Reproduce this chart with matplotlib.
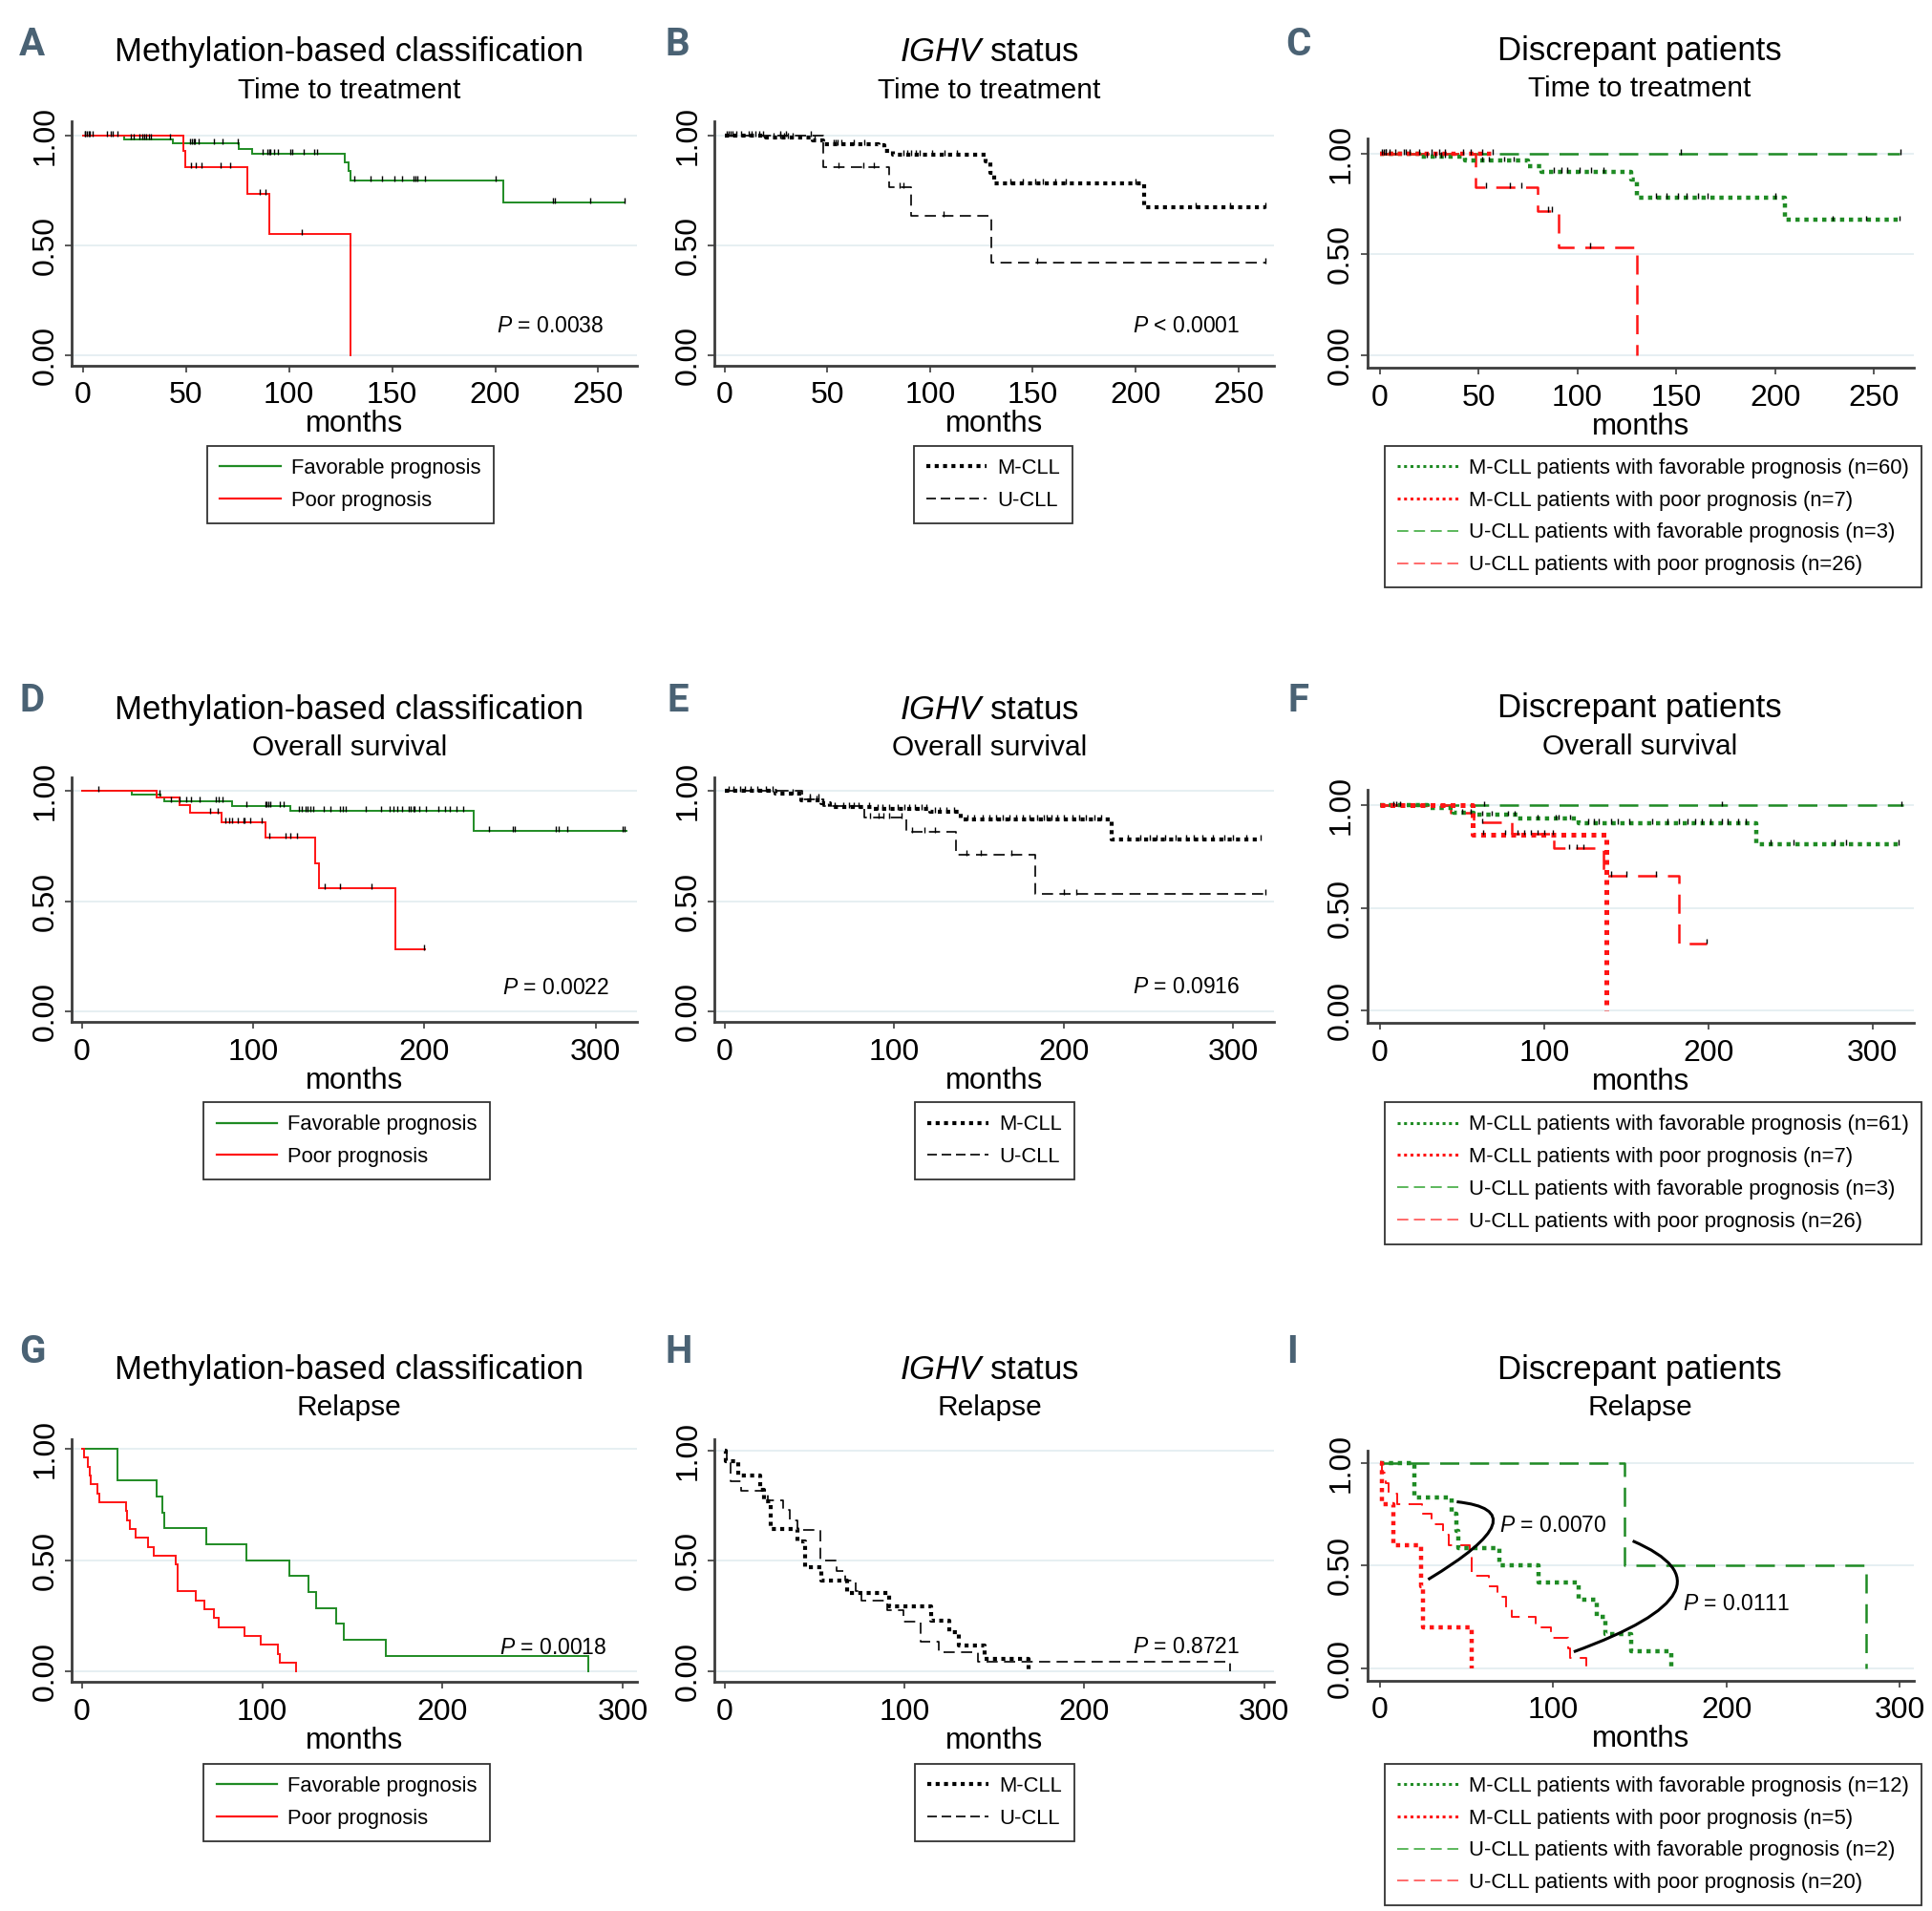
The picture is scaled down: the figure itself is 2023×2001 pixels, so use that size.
import numpy as np
import matplotlib
matplotlib.use('Agg')
import matplotlib.pyplot as plt
from matplotlib.lines import Line2D
from matplotlib.path import Path
from matplotlib.patches import PathPatch

plt.rcParams['font.family'] = ['Liberation Sans', 'DejaVu Sans']
plt.rcParams['mathtext.fontset'] = 'custom'
plt.rcParams['mathtext.rm'] = 'Liberation Sans'
plt.rcParams['mathtext.it'] = 'Liberation Sans:italic'

# ---------------- data (months, survival after each step) ----------------
# A: methylation classes, time to treatment
a_fav_t = [0, 20, 43.8, 75.4, 82.3, 127, 129, 130, 204, 263]
a_fav_s = [1, .983, .963, .938, .915, .875, .837, .795, .695, .695]
a_fav_cens = [0.8, 1.2, 1.9, 2.7, 3.3, 4.6, 11.6, 13.3, 14.5, 16.6, 23.1, 24.7, 27.2, 28.7,
              29.9, 30.8, 32, 33, 42, 52, 52.8, 53.6, 54.4, 56.1, 63.4, 67.5, 75.2, 87, 89.4,
              90.2, 91, 92.7, 94.8, 100.4, 101.6, 107.2, 112.4, 113.7, 131.8, 139.4, 145,
              150.9, 155, 160.4, 161.3, 162.1, 165.8, 200, 228, 229, 246, 263]
a_poor_t = [0, 48.5, 49.5, 79.8, 90.6, 130]
a_poor_s = [1, .93, .855, .733, .552, 0]
a_poor_cens = [52.6, 54.9, 57.4, 66.7, 71.5, 85.8, 88.5, 106.4]

# B: IGHV status, time to treatment
b_m_t = [0, 20, 43, 48, 75, 78, 82, 127, 129.5, 131, 204, 263]
b_m_s = [1, .988, .975, .96, .955, .93, .913, .88, .83, .783, .672, .672]
b_m_cens = [1, 2, 4, 8, 12, 15, 17, 24, 27, 29, 31, 33, 44, 53, 54, 55, 57, 63, 68, 87, 89,
            91, 93, 95, 101, 107, 113, 139, 145, 151, 155, 161, 166, 200, 229, 246, 263]
b_u_t = [0, 48, 80, 91, 130, 263]
b_u_s = [1, .855, .763, .633, .422, .422]
b_u_cens = [3, 6, 13, 19, 27, 30, 42, 55.5, 67.6, 72.7, 85, 87, 106.6, 152, 263]

# C: discrepant patients, time to treatment
c_mf_t = [0, 20, 43, 75, 82, 127, 130, 205, 263]
c_mf_s = [1, .985, .964, .939, .91, .87, .782, .67, .67]
c_mf_cens = [2, 3, 5, 12, 15, 24, 28, 31, 33, 52, 55, 63, 68, 88, 92, 95, 101, 107, 113, 140,
             145, 151, 155, 161, 166, 200, 229, 246, 263]
c_mp_t = [0, 57]
c_mp_s = [1, 1]
c_mp_cens = [1, 3, 8, 13, 20, 26, 30, 33, 42, 46, 57]
c_uf_t = [0, 263]
c_uf_s = [1, 1]
c_uf_cens = [52, 152.5, 263.5]
c_up_t = [0, 48.5, 80, 90.5, 130]
c_up_s = [1, .834, .714, .534, 0]
c_up_cens = [54, 66, 71.5, 85, 87, 106.4]

# D: methylation classes, overall survival
d_fav_t = [0, 29, 46, 48, 88, 122, 229, 318]
d_fav_s = [1, .984, .97, .953, .933, .913, .821, .821]
d_fav_cens = [9.5, 45.5, 52, 57, 61, 64, 69, 78, 80, 82, 96, 107, 108, 109, 110, 115.6, 118,
              127, 128.6, 130.5, 132, 133.5, 135, 141, 145, 151, 152.5, 154, 165.6, 175, 180,
              182, 184, 187, 191, 192, 193.5, 194.5, 197, 200.8, 208, 212, 215, 218.6, 222.9,
              237.7, 251.5, 253, 277, 278.6, 283.7, 315.6, 316.8]
d_poor_t = [0, 43.5, 57.3, 63.3, 81.7, 107.3, 136.2, 138.7, 183.2, 200.3]
d_poor_s = [1, .97, .936, .902, .86, .788, .674, .562, .282, .282]
d_poor_cens = [75, 79.4, 83.7, 86.2, 88, 91, 94.2, 95.2, 98.2, 105, 109.3, 119, 121.6, 125.4,
               142, 151, 169, 200]

# E: IGHV status, overall survival
e_m_t = [0, 30, 45, 57, 62, 87, 121, 139, 228.5, 316]
e_m_s = [1, .99, .96, .945, .928, .921, .905, .874, .78, .78]
e_m_cens = [2, 5, 9, 12, 15, 19, 24, 28, 40, 50, 54, 58, 65, 70, 73, 76, 79, 85, 90, 93, 97,
            102, 106, 109, 112, 116, 119, 124, 127, 131, 135, 143, 147, 152, 156, 160, 164,
            168, 172, 176, 180, 184, 188, 190, 193, 196, 200, 205, 209, 213, 218, 222, 238,
            245, 251, 255, 260, 266, 272, 277, 282, 288, 295, 300, 308, 316]
e_u_t = [0, 45.5, 58, 82, 107, 136.5, 183, 319]
e_u_s = [1, .965, .935, .882, .816, .71, .534, .534]
e_u_cens = [50, 55, 85.5, 90.9, 93.6, 97, 104, 110.6, 118, 124, 142.5, 151, 168.8, 200,
            207.6, 319]

# F: discrepant patients, overall survival
f_mf_t = [0, 29, 45, 57, 84, 121, 229, 316]
f_mf_s = [1, .985, .962, .953, .935, .912, .811, .811]
f_mf_cens = [10, 50, 55, 62, 68, 78, 82, 96, 107, 109, 116, 127, 130, 133, 141, 145, 152,
             166, 175, 182, 187, 192, 196, 201, 208, 212, 218, 223, 238, 252, 277, 284, 316]
f_mp_t = [0, 56.4, 138]
f_mp_s = [1, .859, 0]
f_mp_cens = [12, 63, 76]
f_uf_t = [0, 319]
f_uf_s = [1, 1]
f_uf_cens = [8.3, 63.4, 208, 317.6]
f_up_t = [0, 43, 57, 80, 106, 136, 182, 199]
f_up_s = [1, .962, .916, .86, .79, .658, .328, .328]
f_up_cens = [62, 84, 88, 92, 96, 100, 105, 115, 120, 124, 141, 150, 168, 199]

# G: methylation classes, relapse
g_fav_t = [0, 20, 41.5, 44.5, 45.5, 69, 91.5, 115, 125.5, 130, 141, 145, 168.5, 280.8]
g_fav_s = [1, .857, .786, .714, .643, .571, .5, .429, .357, .286, .214, .143, .071, 0]
g_poor_t = [0, 1.5, 3.5, 4.5, 5, 8.5, 10, 24.5, 25, 26.5, 30, 36.5, 40, 52, 53, 63, 68, 73,
            76, 90, 99, 108.5, 110, 119]
g_poor_s = [1, .96, .92, .88, .84, .8, .76, .72, .68, .64, .6, .56, .52, .48, .36, .32, .28,
            .24, .2, .16, .12, .08, .04, 0]

# H: IGHV status, relapse
h_m_t = [0, 0.7, 7.6, 20, 22, 25.5, 40.5, 45, 54, 68, 91.4, 114.6, 125, 130.3, 144.7, 169]
h_m_s = [1, .95, .887, .82, .768, .645, .59, .47, .41, .355, .294, .232, .18, .118, .06, 0]
h_u_t = [0, 1.2, 3.5, 9.3, 24.3, 32.4, 36.3, 40.5, 53.2, 62.5, 67, 73, 76, 90.5, 99.5, 108.8,
         119, 141, 280.8]
h_u_s = [1, .958, .862, .818, .775, .73, .683, .638, .5, .454, .41, .365, .32, .278, .228,
         .136, .09, .044, 0]

# I: discrepant patients, relapse
i_mf_t = [0, 20, 41.5, 44.5, 45.5, 69, 91.5, 115, 125.5, 130, 145, 168.5]
i_mf_s = [1, .833, .75, .667, .583, .5, .417, .333, .25, .167, .083, 0]
i_mp_t = [0, 1.5, 8, 23.7, 25, 53]
i_mp_s = [1, .8, .6, .4, .2, 0]
i_uf_t = [0, 141, 280.8]
i_uf_s = [1, .5, 0]
i_up_t = [0, 1.5, 3.5, 5, 10, 24.5, 30, 36.5, 40, 52, 53, 63, 68, 73, 76, 90, 99, 109, 110, 119]
i_up_s = [1, .95, .9, .85, .8, .75, .7, .65, .6, .55, .45, .4, .35, .3, .25, .2, .15, .1, .05, 0]

p_values = {'A': 'P = 0.0038', 'B': 'P < 0.0001', 'D': 'P = 0.0022',
            'E': 'P = 0.0916', 'G': 'P = 0.0018', 'H': 'P = 0.8721'}

meth_labels = ['Favorable prognosis', 'Poor prognosis']
ighv_labels = ['M-CLL', 'U-CLL']
disc_labels_ttt = ['M-CLL patients with favorable prognosis (n=60)',
                   'M-CLL patients with poor prognosis (n=7)',
                   'U-CLL patients with favorable prognosis (n=3)',
                   'U-CLL patients with poor prognosis (n=26)']
disc_labels_os = ['M-CLL patients with favorable prognosis (n=61)',
                  'M-CLL patients with poor prognosis (n=7)',
                  'U-CLL patients with favorable prognosis (n=3)',
                  'U-CLL patients with poor prognosis (n=26)']
disc_labels_rel = ['M-CLL patients with favorable prognosis (n=12)',
                   'M-CLL patients with poor prognosis (n=5)',
                   'U-CLL patients with favorable prognosis (n=2)',
                   'U-CLL patients with poor prognosis (n=20)']

GREEN = '#1f8b24'
RED = '#ff1414'
LETTER = '#4a6274'

# ---------------- layout helpers ----------------
W, H = 1560.0, 1543.0
fig = plt.figure(figsize=(20.23, 20.01), dpi=100)


def fx(x):
    return x / W


def fy(y):
    return 1 - y / H


def make_axes(left, top, right, bottom, xlim, ylim, xticks):
    ax = fig.add_axes([fx(left), fy(bottom), (right - left) / W, (bottom - top) / H])
    ax.set_xlim(xlim)
    ax.set_ylim(ylim)
    ax.set_xticks(xticks)
    ax.set_yticks([0, 0.5, 1])
    ax.set_yticklabels(['0.00', '0.50', '1.00'], rotation=90, va='center')
    for s in ['top', 'right']:
        ax.spines[s].set_visible(False)
    for s in ['left', 'bottom']:
        ax.spines[s].set_color('#3c3c3c')
        ax.spines[s].set_linewidth(2)
    ax.tick_params(axis='both', direction='out', length=5, width=1.2, color='#3c3c3c',
                   labelsize=23)
    ax.tick_params(axis='x', pad=7)
    ax.tick_params(axis='y', pad=4)
    ax.yaxis.grid(True, color='#e4eef1', lw=1.3)
    ax.set_axisbelow(True)
    ax.set_xlabel('months', fontsize=22.5, labelpad=0)
    return ax


def titles(cx, y1, line1, line2):
    fig.text(fx(cx), fy(y1), line1, ha='center', va='center', fontsize=25)
    fig.text(fx(cx), fy(y1 + 31), line2, ha='center', va='center', fontsize=21.5)


def letter(x, y, s):
    fig.text(fx(x), fy(y), s, ha='center', va='center', fontsize=29, fontweight='bold',
             color=LETTER, family=['Roboto', 'Liberation Sans'])


def step(ax, t, s, **kw):
    ax.plot(t, s, drawstyle='steps-post', **kw)


def censor(ax, t, s, cens):
    t = np.asarray(t)
    s = np.asarray(s)
    idx = np.clip(np.searchsorted(t, cens, side='right') - 1, 0, len(s) - 1)
    lev = s[idx]
    ax.vlines(cens, lev - 0.004, lev + 0.022, color='black', lw=1.0, zorder=5)


def add_legend(ax, handles, labels, cx, top):
    leg = ax.legend(handles, labels, loc='upper center', bbox_to_anchor=(fx(cx), fy(top)),
                    bbox_transform=fig.transFigure, fontsize=15.8, frameon=True,
                    fancybox=False, edgecolor='black', handlelength=2.9,
                    handletextpad=0.5, labelspacing=0.58, borderpad=0.6, borderaxespad=0)
    leg.get_frame().set_linewidth(1.3)
    return leg


def ptext(ax, x, y, key):
    txt = p_values[key]
    ax.text(x, y, r'$\mathit{P}$' + txt[1:], ha='right', va='center', fontsize=16.5)


solid_kw = dict(lw=1.4, solid_joinstyle='miter')
mdot = (0, (1.0, 1.1))
udash = (0, (7, 4))
cdash = (0, (8, 4.5))

h_green = Line2D([], [], color=GREEN, lw=1.6)
h_red = Line2D([], [], color=RED, lw=1.6)
h_mcll = Line2D([], [], color='black', lw=3.0, ls=mdot, dash_capstyle='butt')
h_ucll = Line2D([], [], color='black', lw=1.2, ls=(0, (6, 3)))
h_disc = [Line2D([], [], color=GREEN, lw=2.2, ls=(0, (1, 1.2)), dash_capstyle='butt'),
          Line2D([], [], color=RED, lw=2.2, ls=(0, (1, 1.2)), dash_capstyle='butt'),
          Line2D([], [], color='#5cb85c', lw=1.4, ls=(0, (6, 3))),
          Line2D([], [], color='#ff6a6a', lw=1.4, ls=(0, (6, 3)))]

cols = [(58, 514), (577, 1029), (1104, 1545)]
t250 = [0, 50, 100, 150, 200, 250]
t300 = [0, 100, 200, 300]

# ---------------- row 1: time to treatment ----------------
ax = make_axes(cols[0][0], 98, cols[0][1], 295, (-5.4, 268.6), (-0.045, 1.063), t250)
step(ax, a_fav_t, a_fav_s, color=GREEN, **solid_kw)
step(ax, a_poor_t, a_poor_s, color=RED, **solid_kw)
censor(ax, a_fav_t, a_fav_s, a_fav_cens)
censor(ax, a_poor_t, a_poor_s, a_poor_cens)
ptext(ax, 252.7, 0.133, 'A')
add_legend(ax, [h_green, h_red], meth_labels, 283, 360)
titles(282, 42, 'Methylation-based classification', 'Time to treatment')
letter(26, 36, 'A')

ax = make_axes(cols[1][0], 98, cols[1][1], 295, (-4.8, 267.5), (-0.045, 1.063), t250)
step(ax, b_m_t, b_m_s, color='black', lw=3.0, ls=mdot, dash_capstyle='butt')
step(ax, b_u_t, b_u_s, color='black', lw=1.2, ls=udash)
censor(ax, b_m_t, b_m_s, b_m_cens)
censor(ax, b_u_t, b_u_s, b_u_cens)
ptext(ax, 250.8, 0.133, 'B')
add_legend(ax, [h_mcll, h_ucll], ighv_labels, 802, 360)
titles(799, 42, r'$\mathit{IGHV}$ status', 'Time to treatment')
letter(547, 36, 'B')

ax = make_axes(cols[2][0], 112, cols[2][1], 297, (-6.3, 270), (-0.063, 1.073), t250)
step(ax, c_uf_t, c_uf_s, color=GREEN, lw=1.8, ls=cdash)
step(ax, c_up_t, c_up_s, color=RED, lw=1.8, ls=cdash)
step(ax, c_mf_t, c_mf_s, color=GREEN, lw=3.2, ls=mdot, dash_capstyle='butt')
step(ax, c_mp_t, c_mp_s, color=RED, lw=3.2, ls=mdot, dash_capstyle='butt')
for tt, ss, cc in [(c_mf_t, c_mf_s, c_mf_cens), (c_mp_t, c_mp_s, c_mp_cens),
                   (c_uf_t, c_uf_s, c_uf_cens), (c_up_t, c_up_s, c_up_cens)]:
    censor(ax, tt, ss, cc)
add_legend(ax, h_disc, disc_labels_ttt, 1335, 360)
titles(1324, 41, 'Discrepant patients', 'Time to treatment')
letter(1048, 36, 'C')

# ---------------- row 2: overall survival ----------------
ax = make_axes(cols[0][0], 628, cols[0][1], 825, (-5.8, 323.9), (-0.045, 1.061), t300)
step(ax, d_fav_t, d_fav_s, color=GREEN, **solid_kw)
step(ax, d_poor_t, d_poor_s, color=RED, **solid_kw)
censor(ax, d_fav_t, d_fav_s, d_fav_cens)
censor(ax, d_poor_t, d_poor_s, d_poor_cens)
ptext(ax, 308, 0.107, 'D')
add_legend(ax, [h_green, h_red], meth_labels, 280, 890)
titles(282, 573, 'Methylation-based classification', 'Overall survival')
letter(26, 566, 'D')

ax = make_axes(cols[1][0], 628, cols[1][1], 825, (-6.1, 324.3), (-0.045, 1.061), t300)
step(ax, e_m_t, e_m_s, color='black', lw=3.0, ls=mdot, dash_capstyle='butt')
step(ax, e_u_t, e_u_s, color='black', lw=1.2, ls=udash)
censor(ax, e_m_t, e_m_s, e_m_cens)
censor(ax, e_u_t, e_u_s, e_u_cens)
ptext(ax, 304, 0.114, 'E')
add_legend(ax, [h_mcll, h_ucll], ighv_labels, 803, 890)
titles(799, 573, r'$\mathit{IGHV}$ status', 'Overall survival')
letter(547, 566, 'E')

ax = make_axes(cols[2][0], 638, cols[2][1], 826, (-7.8, 324.9), (-0.061, 1.074), t300)
step(ax, f_uf_t, f_uf_s, color=GREEN, lw=1.8, ls=cdash)
step(ax, f_up_t, f_up_s, color=RED, lw=1.8, ls=cdash)
step(ax, f_mf_t, f_mf_s, color=GREEN, lw=3.2, ls=mdot, dash_capstyle='butt')
step(ax, f_mp_t, f_mp_s, color=RED, lw=3.6, ls=mdot, dash_capstyle='butt')
for tt, ss, cc in [(f_mf_t, f_mf_s, f_mf_cens), (f_mp_t, f_mp_s, f_mp_cens),
                   (f_uf_t, f_uf_s, f_uf_cens), (f_up_t, f_up_s, f_up_cens)]:
    censor(ax, tt, ss, cc)
add_legend(ax, h_disc, disc_labels_os, 1335, 890)
titles(1324, 572, 'Discrepant patients', 'Overall survival')
letter(1048, 566, 'F')

# ---------------- row 3: relapse ----------------
ax = make_axes(cols[0][0], 1162, cols[0][1], 1358, (-5.5, 307.5), (-0.046, 1.043), t300)
step(ax, g_fav_t, g_fav_s, color=GREEN, **solid_kw)
step(ax, g_poor_t, g_poor_s, color=RED, **solid_kw)
ptext(ax, 290.8, 0.105, 'G')
add_legend(ax, [h_green, h_red], meth_labels, 280, 1424)
titles(282, 1106, 'Methylation-based classification', 'Relapse')
letter(26, 1092, 'G')

ax = make_axes(cols[1][0], 1162, cols[1][1], 1358, (-5.5, 305.6), (-0.046, 1.05), t300)
step(ax, h_m_t, h_m_s, color='black', lw=3.0, ls=mdot, dash_capstyle='butt')
step(ax, h_u_t, h_u_s, color='black', lw=1.2, ls=udash)
ptext(ax, 286, 0.11, 'H')
add_legend(ax, [h_mcll, h_ucll], ighv_labels, 803, 1424)
titles(799, 1106, r'$\mathit{IGHV}$ status', 'Relapse')
letter(548, 1092, 'H')

ax = make_axes(cols[2][0], 1171, cols[2][1], 1357, (-7.1, 307.9), (-0.058, 1.06), t300)
step(ax, i_uf_t, i_uf_s, color=GREEN, lw=1.8, ls=cdash)
step(ax, i_up_t, i_up_s, color=RED, lw=1.4, ls=cdash)
step(ax, i_mf_t, i_mf_s, color=GREEN, lw=3.2, ls=mdot, dash_capstyle='butt')
step(ax, i_mp_t, i_mp_s, color=RED, lw=3.2, ls=mdot, dash_capstyle='butt')
# curved brackets linking compared curves
for p0, p1, p2 in [((44.5, 0.81), (93.75, 0.7665), (28, 0.433)),
                   ((146, 0.62), (211, 0.385), (112, 0.082))]:
    path = Path([p0, p1, p2], [Path.MOVETO, Path.CURVE3, Path.CURVE3])
    ax.add_patch(PathPatch(path, fill=False, lw=2.2, color='black', zorder=6))
ax.text(69, 0.694, r'$\mathit{P}$ = 0.0070', ha='left', va='center', fontsize=16.5)
ax.text(175, 0.313, r'$\mathit{P}$ = 0.0111', ha='left', va='center', fontsize=16.5)
add_legend(ax, h_disc, disc_labels_rel, 1335, 1424)
titles(1324, 1106, 'Discrepant patients', 'Relapse')
letter(1043, 1092, 'I')

fig.savefig('out.png', dpi=100, facecolor='white')
